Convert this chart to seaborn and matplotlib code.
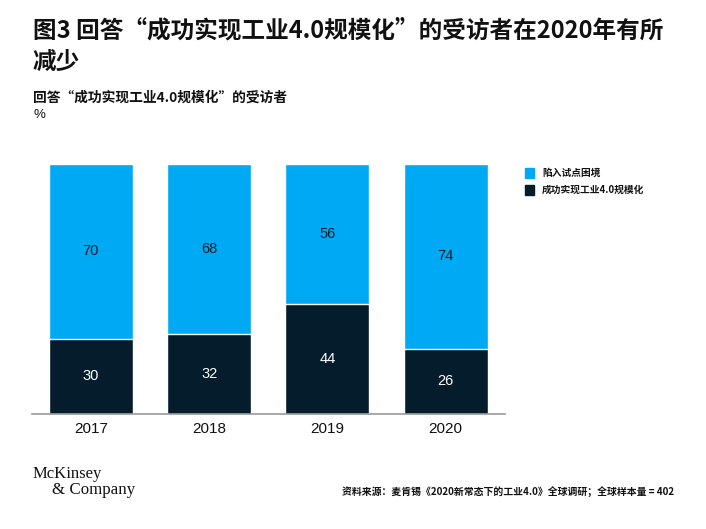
import numpy as np
import pandas as pd
import matplotlib.pyplot as plt
import seaborn as sns

years = ["2017", "2018", "2019", "2020"]
stuck = [70, 68, 56, 74]      # 陷入试点困境
scaled = [30, 32, 44, 26]     # 成功实现工业4.0规模化
series_names = ["陷入试点困境", "成功实现工业4.0规模化"]

light = "#00A9F4"
dark = "#051C2C"

sns.set_theme(style="white")
plt.rcParams["font.family"] = ["Noto Sans CJK SC", "DejaVu Sans"]

df = pd.DataFrame({"year": years, "stuck": stuck, "scaled": scaled})
df["total"] = df["stuck"] + df["scaled"]

fig = plt.figure(figsize=(7.06, 5.29), dpi=100)
ax = fig.add_axes([0.045, 0.2174, 0.67, 0.4726])

sns.barplot(data=df, x="year", y="total", color=light, width=0.71,
            edgecolor="white", linewidth=1, saturation=1, ax=ax)
sns.barplot(data=df, x="year", y="scaled", color=dark, width=0.71,
            edgecolor="white", linewidth=1, saturation=1, ax=ax)

for i, row in df.iterrows():
    ax.text(i, row["scaled"] / 2, str(row["scaled"]), ha="center", va="center",
            color="white", fontsize=10.5, family=["Liberation Sans", "DejaVu Sans"])
    ax.text(i, row["scaled"] + row["stuck"] / 2, str(row["stuck"]), ha="center",
            va="center", color=dark, fontsize=10.5, family=["Liberation Sans", "DejaVu Sans"])

ax.set_xlim(-0.5, 3.5)
ax.set_ylim(0, 100)
ax.set_xlabel("")
ax.set_ylabel("")
ax.set_yticks([])
ax.tick_params(axis="x", length=0, pad=6, labelsize=11, colors="#111111")
for lbl in ax.get_xticklabels():
    lbl.set_family(["Liberation Sans", "DejaVu Sans"])
for side in ["top", "left", "right"]:
    ax.spines[side].set_visible(False)
ax.spines["bottom"].set_color("#9a9a9a")
ax.spines["bottom"].set_linewidth(1.2)

# legend
for k, (name, c) in enumerate(zip(series_names, [light, dark])):
    y = 1 - (173 + 17 * k) / 529
    fig.patches.append(plt.Rectangle((525 / 706, y - 4.5 / 529), 9 / 706, 9 / 529,
                                     transform=fig.transFigure, color=c))
    fig.text(542 / 706, y, name, fontsize=7, fontweight="bold", va="center", color="#111111")

fig.text(33 / 706, 1 - 30 / 529, "图3 回答“成功实现工业4.0规模化”的受访者在2020年有所",
         fontsize=17, fontweight="bold", va="center", color="#111111")
fig.text(33 / 706, 1 - 62 / 529, "减少", fontsize=17, fontweight="bold", va="center", color="#111111")
fig.text(33 / 706, 1 - 98 / 529, "回答“成功实现工业4.0规模化”的受访者",
         fontsize=9.9, fontweight="bold", va="center", color="#111111")
fig.text(33 / 706, 1 - 115 / 529, "%", fontsize=9.5, va="center", color="#111111",
         family=["Liberation Sans", "DejaVu Sans"])

fig.text(33 / 706, 1 - 474 / 529, "McKinsey", fontsize=12, family="Liberation Serif",
         va="center", color="#111111")
fig.text(52 / 706, 1 - 490 / 529, "& Company", fontsize=12.2, family="Liberation Serif",
         va="center", color="#111111")
fig.text(674 / 706, 1 - 492 / 529, "资料来源：麦肯锡《2020新常态下的工业4.0》全球调研；全球样本量 = 402",
         fontsize=7.1, fontweight="bold", ha="right", va="center", color="#111111")

fig.savefig("out.png", dpi=100)
